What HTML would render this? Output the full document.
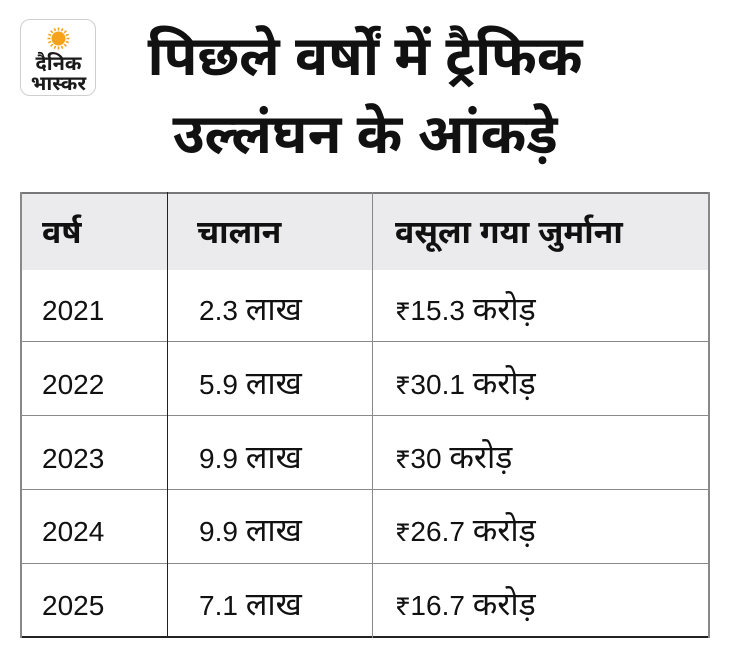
<!DOCTYPE html>
<html>
<head>
<meta charset="utf-8">
<style>
  html,body{margin:0;padding:0;background:#fff;}
  body{width:730px;height:659px;position:relative;overflow:hidden;
    font-family:"Liberation Sans","Noto Sans Devanagari","Lohit Devanagari","FreeSans","DejaVu Sans",sans-serif;color:#111;}
  .logo{position:absolute;left:20px;top:19px;width:76px;height:77px;border:1px solid #cfcfcf;border-radius:10px;background:#fff;box-sizing:border-box;}
  .logo .t{position:absolute;left:0;width:75px;text-align:center;font-weight:bold;font-size:20px;line-height:20px;color:#1a1a1a;}
  .title{position:absolute;left:0;width:730px;text-align:center;font-weight:bold;font-size:55px;line-height:55px;color:#111;white-space:nowrap;}
  .hdr{position:absolute;left:20px;top:192px;width:690px;height:78px;background:#ebebed;}
  .hl{position:absolute;height:1px;background:#8a8a8a;}
  .vl{position:absolute;width:1px;background:#222;}
  .c{position:absolute;white-space:nowrap;font-size:28px;line-height:28px;}
  .c span{font-size:32px;}
  .m{margin-top:-2px;}
  .h{position:absolute;white-space:nowrap;font-size:32px;line-height:32px;font-weight:bold;}
</style>
</head>
<body>
  <div class="logo">
    <svg width="75" height="40" style="position:absolute;left:0;top:0" viewBox="0 0 75 40">
      <g transform="translate(37.5,18.5)">
        <circle r="7" fill="#f7a21b"/>
        <g stroke="#f7a21b" stroke-width="1.6">
          <line x1="0" y1="-8" x2="0" y2="-11"/><line x1="0" y1="8" x2="0" y2="11"/>
          <line x1="-8" y1="0" x2="-11" y2="0"/><line x1="8" y1="0" x2="11" y2="0"/>
          <line x1="5.7" y1="5.7" x2="7.8" y2="7.8"/><line x1="-5.7" y1="-5.7" x2="-7.8" y2="-7.8"/>
          <line x1="5.7" y1="-5.7" x2="7.8" y2="-7.8"/><line x1="-5.7" y1="5.7" x2="-7.8" y2="7.8"/>
          <line x1="3" y1="-7.4" x2="4.2" y2="-10.2"/><line x1="-3" y1="7.4" x2="-4.2" y2="10.2"/>
          <line x1="-3" y1="-7.4" x2="-4.2" y2="-10.2"/><line x1="3" y1="7.4" x2="4.2" y2="10.2"/>
          <line x1="7.4" y1="3" x2="10.2" y2="4.2"/><line x1="-7.4" y1="-3" x2="-10.2" y2="-4.2"/>
          <line x1="7.4" y1="-3" x2="10.2" y2="-4.2"/><line x1="-7.4" y1="3" x2="-10.2" y2="4.2"/>
        </g>
      </g>
    </svg>
    <div class="t" style="top:34px;">दैनिक</div>
    <div class="t" style="top:54px;">भास्कर</div>
  </div>

  <div class="title" style="top:29px;">पिछले वर्षों में ट्रैफिक</div>
  <div class="title" style="top:107px;">उल्लंघन के आंकड़े</div>

  <div class="hdr"></div>
  <!-- horizontal lines -->
  <div class="hl" style="left:20px;top:192px;width:690px;height:2px;background:#777;"></div>
  <div class="hl" style="left:20px;top:341px;width:690px;"></div>
  <div class="hl" style="left:20px;top:415px;width:690px;"></div>
  <div class="hl" style="left:20px;top:489px;width:690px;"></div>
  <div class="hl" style="left:20px;top:563px;width:690px;"></div>
  <div class="hl" style="left:20px;top:636px;width:690px;height:2px;background:#222;"></div>
  <!-- vertical lines -->
  <div class="vl" style="left:20px;top:192px;height:446px;width:2px;background:#888;"></div>
  <div class="vl" style="left:167px;top:192px;height:446px;"></div>
  <div class="vl" style="left:372px;top:192px;height:446px;background:#888;"></div>
  <div class="vl" style="left:708px;top:192px;height:446px;width:2px;background:#888;"></div>

  <!-- header -->
  <div class="h" style="left:42px;top:216px;">वर्ष</div>
  <div class="h" style="left:197px;top:216px;">चालान</div>
  <div class="h" style="left:395px;top:216px;">वसूला गया जुर्माना</div>

  <!-- rows -->
  <div class="c" style="left:42px;top:297px;">2021</div>
  <div class="c m" style="left:199px;top:297px;">2.3 <span>लाख</span></div>
  <div class="c m" style="left:395px;top:297px;">₹15.3 <span>करोड़</span></div>

  <div class="c" style="left:42px;top:371px;">2022</div>
  <div class="c m" style="left:199px;top:371px;">5.9 <span>लाख</span></div>
  <div class="c m" style="left:395px;top:371px;">₹30.1 <span>करोड़</span></div>

  <div class="c" style="left:42px;top:445px;">2023</div>
  <div class="c m" style="left:199px;top:445px;">9.9 <span>लाख</span></div>
  <div class="c m" style="left:395px;top:445px;">₹30 <span>करोड़</span></div>

  <div class="c" style="left:42px;top:518px;">2024</div>
  <div class="c m" style="left:199px;top:518px;">9.9 <span>लाख</span></div>
  <div class="c m" style="left:395px;top:518px;">₹26.7 <span>करोड़</span></div>

  <div class="c" style="left:42px;top:592px;">2025</div>
  <div class="c m" style="left:199px;top:592px;">7.1 <span>लाख</span></div>
  <div class="c m" style="left:395px;top:592px;">₹16.7 <span>करोड़</span></div>
</body>
</html>
